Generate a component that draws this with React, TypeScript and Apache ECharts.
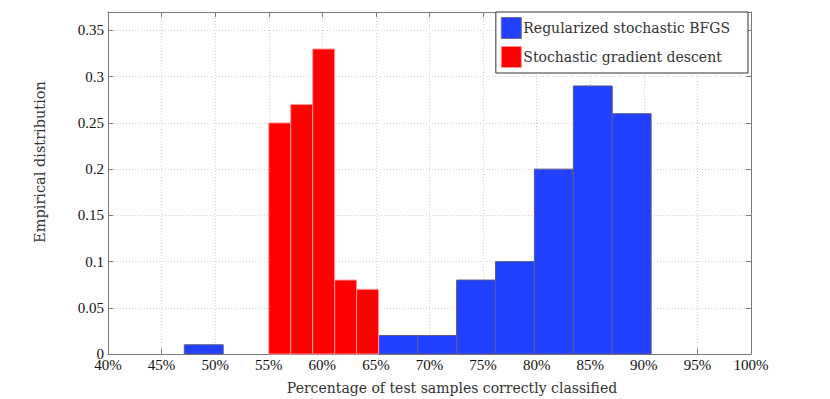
import React, { useEffect, useRef } from "react";
import * as echarts from "echarts";

const xTickMin = 40;
const xTickMax = 100;
const xTickStep = 5;
const yMax = 0.37;
const yTickStep = 0.05;

const seriesNames = ["Regularized stochastic BFGS", "Stochastic gradient descent"];

// bin edges (percent) and heights
const blueBinLo = [47.12, 65.27, 68.9, 72.53, 76.16, 79.79, 83.42, 87.05];
const blueBinHi = [50.75, 68.9, 72.53, 76.16, 79.79, 83.42, 87.05, 90.68];
const blueValues = [0.01, 0.02, 0.02, 0.08, 0.1, 0.2, 0.29, 0.26];

const redBinLo = [55, 57.05, 59.1, 61.15, 63.2];
const redBinHi = [57.05, 59.1, 61.15, 63.2, 65.25];
const redValues = [0.25, 0.27, 0.33, 0.08, 0.07];

const xAxisTitle = "Percentage of test samples correctly classified";
const yAxisTitle = "Empirical distribution";

const FONT = "Liberation Serif";
const TITLE_FONT = "DejaVu Serif";
const BLUE = "#2140ff";
const RED = "#ff0000";

function renderBar(params: any, api: any) {
  const lo = api.value(0);
  const hi = api.value(1);
  const v = api.value(2);
  const p0 = api.coord([lo, v]);
  const p1 = api.coord([hi, 0]);
  return {
    type: "rect",
    shape: { x: p0[0], y: p0[1], width: p1[0] - p0[0], height: p1[1] - p0[1] },
    style: api.style(),
  };
}

export default function App() {
  const ref = useRef<HTMLDivElement>(null);
  useEffect(() => {
    if (!ref.current) return;
    const chart = echarts.init(ref.current, undefined, { renderer: "svg" });
    const blueData = blueValues.map((v, i) => [blueBinLo[i], blueBinHi[i], v]);
    const redData = redValues.map((v, i) => [redBinLo[i], redBinHi[i], v]);
    const axisLineStyle = { color: "#7a7a7a", width: 1 };
    chart.setOption({
      animation: false,
      backgroundColor: "#fff",
      textStyle: { fontFamily: FONT },
      grid: { left: 108, right: 79, top: 12, bottom: 45, containLabel: false },
      legend: {
        orient: "vertical",
        right: 82,
        top: 12,
        backgroundColor: "#fff",
        borderColor: "#333",
        borderWidth: 1,
        borderRadius: 0,
        padding: [5, 18, 5, 5],
        itemWidth: 20,
        itemHeight: 21,
        itemGap: 7,
        textStyle: { fontFamily: TITLE_FONT, fontSize: 14, color: "#333", padding: [0, 0, 0, -3] },
        data: [
          { name: seriesNames[0], icon: "rect", itemStyle: { color: BLUE, borderColor: "#7070a0", borderWidth: 1 } },
          { name: seriesNames[1], icon: "rect", itemStyle: { color: RED, borderColor: "#ff9090", borderWidth: 1 } },
        ],
        z: 10,
      },
      xAxis: [
        {
          type: "value",
          min: xTickMin,
          max: xTickMax,
          interval: xTickStep,
          axisLine: { show: true, lineStyle: axisLineStyle },
          axisTick: { show: true, inside: true, length: 5, lineStyle: axisLineStyle },
          axisLabel: { formatter: "{value}%", fontFamily: FONT, fontSize: 15, color: "#111", margin: 3 },
          splitLine: { show: true, lineStyle: { color: "#cfcfcf", type: [1, 2], width: 1 } },
        },
        {
          type: "value",
          position: "top",
          min: xTickMin,
          max: xTickMax,
          interval: xTickStep,
          axisLine: { show: true, onZero: false, lineStyle: axisLineStyle },
          axisTick: { show: true, inside: true, length: 5, lineStyle: axisLineStyle },
          axisLabel: { show: false },
          splitLine: { show: false },
        },
      ],
      yAxis: [
        {
          type: "value",
          min: 0,
          max: yMax,
          interval: yTickStep,
          axisLine: { show: true, lineStyle: axisLineStyle },
          axisTick: { show: true, inside: true, length: 5, lineStyle: axisLineStyle },
          axisLabel: { fontFamily: FONT, fontSize: 15, color: "#111", margin: 4, showMaxLabel: false },
          splitLine: { show: true, lineStyle: { color: "#cfcfcf", type: [1, 2], width: 1 } },
        },
        {
          type: "value",
          position: "right",
          min: 0,
          max: yMax,
          interval: yTickStep,
          axisLine: { show: true, onZero: false, lineStyle: axisLineStyle },
          axisTick: { show: true, inside: true, length: 5, lineStyle: axisLineStyle },
          axisLabel: { show: false },
          splitLine: { show: false },
        },
      ],
      series: [
        {
          name: seriesNames[0],
          type: "custom",
          renderItem: renderBar,
          encode: { x: [0, 1], y: 2 },
          itemStyle: { color: BLUE, borderColor: "#5c5c8c", borderWidth: 1 },
          data: blueData,
          z: 2,
        },
        {
          name: seriesNames[1],
          type: "custom",
          renderItem: renderBar,
          encode: { x: [0, 1], y: 2 },
          itemStyle: { color: RED, borderColor: "#ff9a9a", borderWidth: 1 },
          data: redData,
          z: 3,
        },
      ],
      graphic: [
        {
          type: "text",
          x: 452,
          y: 388,
          style: {
            text: xAxisTitle,
            fontFamily: TITLE_FONT,
            fontSize: 14,
            fill: "#333",
            textAlign: "center",
            textVerticalAlign: "middle",
          },
        },
        {
          type: "text",
          x: 40,
          y: 162,
          rotation: Math.PI / 2,
          style: {
            text: yAxisTitle,
            fontFamily: TITLE_FONT,
            fontSize: 14.5,
            fill: "#333",
            textAlign: "center",
            textVerticalAlign: "middle",
          },
        },
      ],
    });
    return () => chart.dispose();
  }, []);
  return <div ref={ref} style={{ width: 830, height: 399, position: "absolute", left: 0, top: 0 }} />;
}
